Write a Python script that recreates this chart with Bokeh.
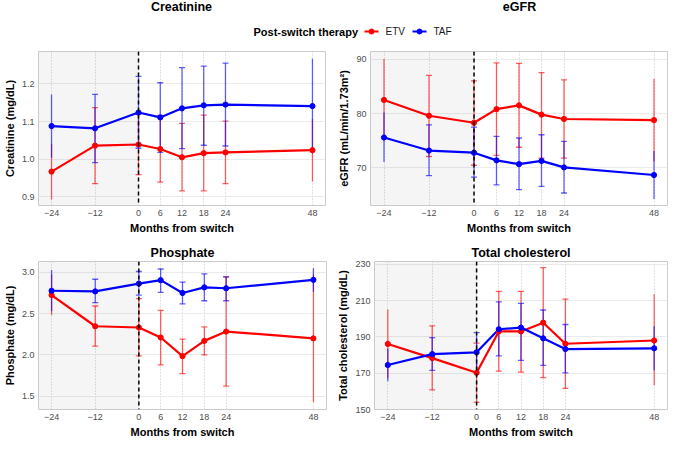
from bokeh.plotting import figure
from bokeh.models import Range1d, FixedTicker, BoxAnnotation, Span, ColumnDataSource, NumeralTickFormatter
from bokeh.layouts import column, row
from bokeh.embed import file_html
from bokeh.resources import INLINE
from bokeh.core.properties import value

FONT = "Liberation Sans"

months = [-24, -12, 0, 6, 12, 18, 24, 48]
series_names = ["ETV", "TAF"]
legend_title = "Post-switch therapy"

# Creatinine (mg/dL)
crea_etv = [0.967, 1.036, 1.039, 1.027, 1.005, 1.016, 1.018, 1.024]
crea_etv_lo = [0.893, 0.935, 0.959, 0.939, 0.916, 0.916, 0.935, 0.941]
crea_etv_hi = [1.041, 1.137, 1.119, 1.116, 1.095, 1.117, 1.101, 1.107]
crea_taf = [1.088, 1.082, 1.124, 1.111, 1.135, 1.143, 1.145, 1.141]
crea_taf_lo = [1.004, 0.991, 1.029, 1.018, 1.028, 1.037, 1.035, 1.015]
crea_taf_hi = [1.172, 1.172, 1.220, 1.203, 1.243, 1.247, 1.255, 1.267]

# eGFR (mL/min/1.73m2)
egfr_etv = [82.5, 79.6, 78.3, 80.8, 81.5, 79.8, 79.0, 78.8]
egfr_etv_lo = [75.0, 72.1, 70.5, 72.3, 73.8, 71.8, 71.8, 71.2]
egfr_etv_hi = [90.0, 87.0, 86.0, 89.3, 89.2, 87.5, 86.2, 86.4]
egfr_taf = [75.6, 73.2, 72.8, 71.4, 70.7, 71.3, 70.1, 68.7]
egfr_taf_lo = [71.1, 68.6, 68.3, 66.9, 66.0, 66.6, 65.4, 64.3]
egfr_taf_hi = [80.2, 77.9, 77.5, 75.8, 75.5, 76.1, 74.9, 73.1]

# Phosphate (mg/dL)
phos_etv = [2.725, 2.348, 2.333, 2.212, 1.986, 2.171, 2.284, 2.201]
phos_etv_lo = [2.484, 2.107, 1.990, 1.881, 1.775, 2.001, 1.624, 1.428]
phos_etv_hi = [2.974, 2.593, 2.683, 2.540, 2.193, 2.340, 2.947, 2.974]
phos_taf = [2.778, 2.770, 2.864, 2.906, 2.751, 2.819, 2.808, 2.910]
phos_taf_lo = [2.530, 2.634, 2.725, 2.759, 2.619, 2.657, 2.657, 2.766]
phos_taf_hi = [3.030, 2.917, 3.011, 3.041, 2.883, 2.981, 2.947, 3.049]

# Total cholesterol (mg/dL)
chol_etv = [186.1, 178.3, 170.2, 193.0, 193.0, 197.8, 186.2, 188.0]
chol_etv_lo = [167.2, 160.8, 153.9, 171.1, 170.6, 167.5, 161.6, 163.4]
chol_etv_hi = [205.0, 196.1, 186.5, 215.1, 215.1, 228.1, 210.8, 213.4]
chol_taf = [174.5, 180.5, 181.5, 194.2, 195.1, 189.2, 183.3, 183.7]
chol_taf_lo = [165.6, 171.6, 170.7, 179.5, 177.1, 174.3, 170.2, 171.6]
chol_taf_hi = [183.4, 189.6, 192.3, 209.3, 208.4, 204.8, 196.8, 195.9]

crea_ticks = [0.9, 1.0, 1.1, 1.2]
egfr_ticks = [70, 80, 90]
phos_ticks = [1.5, 2.0, 2.5, 3.0]
chol_ticks = [150, 170, 190, 210, 230]

RED = "#FF0000"
BLUE = "#0000FF"
X_RANGE = (-27.6, 51.6)


def make_panel(title, ylabel, etv, etv_lo, etv_hi, taf, taf_lo, taf_hi,
               yr, yticks, fmt, width, height, mb_left, mb_right, mb_top, mb_bottom):
    p = figure(width=width, height=height, output_backend="svg", toolbar_location=None,
               x_range=Range1d(*X_RANGE), y_range=Range1d(*yr),
               min_border_left=mb_left, min_border_right=mb_right,
               min_border_top=mb_top, min_border_bottom=mb_bottom)
    p.background_fill_color = "white"
    p.border_fill_color = "white"
    p.outline_line_color = "#CCCCCC"
    p.outline_line_width = 1
    if title:
        p.title.text = title
        p.title.align = "center"
        p.title.text_font = FONT
        p.title.text_font_size = "12.5px"
        p.title.text_font_style = "bold"
        p.title.text_color = "black"
        p.title.standoff = 4
    # shaded pre-switch period
    p.add_layout(BoxAnnotation(right=0, fill_color="black", fill_alpha=0.04,
                               line_color=None, level="underlay"))
    p.add_layout(Span(location=0, dimension="height", line_color="black",
                      line_dash="4 3", line_width=1.5))
    p.xgrid.grid_line_color = "#C4C4C4"
    p.xgrid.grid_line_dash = "1 2"
    p.xgrid.grid_line_width = 1
    p.ygrid.grid_line_color = "#EBEBEB"
    p.ygrid.grid_line_width = 1
    p.xaxis.ticker = FixedTicker(ticks=months)
    p.yaxis.ticker = FixedTicker(ticks=yticks)
    p.yaxis.formatter = NumeralTickFormatter(format=fmt)
    p.xaxis.axis_label = "Months from switch"
    p.yaxis.axis_label = ylabel
    for ax in (p.xaxis[0], p.yaxis[0]):
        ax.axis_line_color = None
        ax.major_tick_line_color = None
        ax.minor_tick_line_color = None
        ax.major_tick_out = 0
        ax.major_tick_in = 0
        ax.major_label_standoff = 4
        ax.major_label_text_font = FONT
        ax.major_label_text_font_size = "9px"
        ax.major_label_text_color = "#4D4D4D"
        ax.axis_label_text_font = FONT
        ax.axis_label_text_font_size = "11px"
        ax.axis_label_text_font_style = "bold"
        ax.axis_label_text_color = "black"
        ax.axis_label_standoff = 3

    groups = [(etv, etv_lo, etv_hi, RED), (taf, taf_lo, taf_hi, BLUE)]
    srcs = []
    for mean, lo, hi, col in groups:
        srcs.append((ColumnDataSource(dict(x=months, y=mean, lo=lo, hi=hi)),
                     ColumnDataSource(dict(x=months[1:-1], lo=lo[1:-1], hi=hi[1:-1])), col))
    for src, cap, col in srcs:
        p.segment(x0="x", x1="x", y0="lo", y1="hi", source=src, line_color=col,
                  line_alpha=0.62, line_width=1.3)
        p.scatter(x="x", y="lo", source=cap, marker="dash", size=6, line_color=col,
                  line_alpha=0.62, line_width=1.3)
        p.scatter(x="x", y="hi", source=cap, marker="dash", size=6, line_color=col,
                  line_alpha=0.62, line_width=1.3)
    for src, cap, col in srcs:
        p.line(x="x", y="y", source=src, line_color=col, line_width=2.2)
    for src, cap, col in srcs:
        p.scatter(x="x", y="y", source=src, marker="circle", size=5.2, fill_color=col,
                  line_color=col)
    return p


W_LEFT, W_RIGHT = 334, 335
H_HEAD, H_TOP, H_BOT = 50, 186, 204

p1 = make_panel(None, "Creatinine (mg/dL)", crea_etv, crea_etv_lo, crea_etv_hi,
                crea_taf, crea_taf_lo, crea_taf_hi, (0.877, 1.286), crea_ticks, "0.0",
                W_LEFT, H_TOP, 0, 9, 1, 30)
p2 = make_panel(None, "eGFR (mL/min/1.73m²)", egfr_etv, egfr_etv_lo, egfr_etv_hi,
                egfr_taf, egfr_taf_lo, egfr_taf_hi, (63.1, 91.4), egfr_ticks, "0",
                W_RIGHT, H_TOP, 36, 2, 1, 30)
p3 = make_panel("Phosphate", "Phosphate (mg/dL)", phos_etv, phos_etv_lo, phos_etv_hi,
                phos_taf, phos_taf_lo, phos_taf_hi, (1.34, 3.132), phos_ticks, "0.0",
                W_LEFT, H_BOT, 0, 8, 25, 28)
p4 = make_panel("Total cholesterol", "Total cholesterol (mg/dL)", chol_etv, chol_etv_lo,
                chol_etv_hi, chol_taf, chol_taf_lo, chol_taf_hi, (150, 231.5), chol_ticks,
                "0", W_RIGHT, H_BOT, 39, 2, 25, 28)

# header: top-row panel titles and the legend
head = figure(width=W_LEFT + W_RIGHT, height=H_HEAD, output_backend="svg",
              toolbar_location=None, x_range=Range1d(0, W_LEFT + W_RIGHT),
              y_range=Range1d(H_HEAD, 0), min_border=0,
              x_axis_location=None, y_axis_location=None)
head.grid.visible = False
head.outline_line_color = None
head.text(x=[181, 519], y=[6, 6], text=["Creatinine", "eGFR"], text_align="center",
          text_baseline="middle", text_font=value(FONT), text_font_size="12.5px",
          text_font_style="bold", text_color="black")
head.text(x=[253], y=[31], text=[legend_title], text_align="left", text_baseline="middle",
          text_font=value(FONT), text_font_size="11px", text_font_style="bold",
          text_color="black")
key_x = [364, 412]
key_cols = [RED, BLUE]
head.segment(x0=[k for k in key_x], x1=[k + 14 for k in key_x], y0=[31, 31], y1=[31, 31],
             line_color=key_cols, line_width=2.2)
head.scatter(x=[k + 7 for k in key_x], y=[31, 31], marker="circle", size=5,
             fill_color=key_cols, line_color=key_cols)
head.text(x=[k + 21 for k in key_x], y=[31, 31], text=series_names, text_align="left",
          text_baseline="middle", text_font=value(FONT), text_font_size="10px",
          text_color="#1A1A1A")

layout = column(head, row(p1, p2), row(p3, p4))
open("out.html", "w").write(file_html(layout, INLINE))
